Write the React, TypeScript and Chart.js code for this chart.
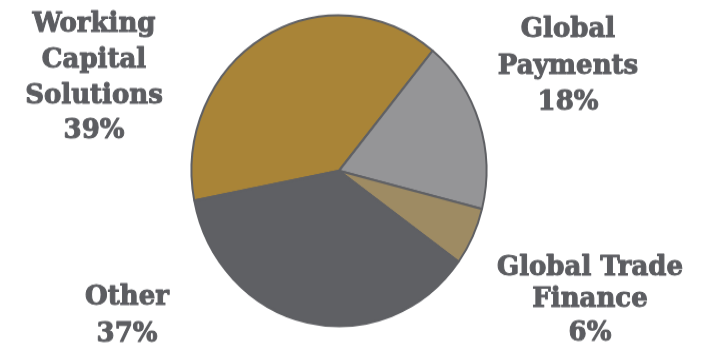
import React, { useEffect, useRef } from "react";
import { Chart, registerables } from "chart.js";

Chart.register(...registerables);

// ---- data ----
const categories: string[] = ["Working Capital Solutions", "Global Payments", "Global Trade Finance", "Other"];
const shares: number[] = [39, 18, 6, 37];
const labelLines: string[][] = [
  ["Working", "Capital", "Solutions"],
  ["Global", "Payments"],
  ["Global Trade", "Finance"],
  ["Other"],
];

// ---- styles / layout ----
const sliceColors = ["#A98437", "#959597", "#9E8B63", "#5F6064"];
const borderColor = "#5F6064";
const textColor = "#5C5D61";
const W = 702;
const H = 351;
const SY = 1.054; // vertical stretch of the reference
const CH = Math.round(H / SY);
// label anchors in page pixels: centre x, baselines y
const labelX = [94, 568, 590, 127];
const labelBaselines = [
  [32, 67, 103, 138],
  [37, 74, 110],
  [275, 307, 340],
  [305, 342],
];

const labelPlugin = {
  id: "outsideLabels",
  afterDraw(chart: any) {
    const ctx = chart.ctx as CanvasRenderingContext2D;
    ctx.save();
    ctx.fillStyle = textColor;
    ctx.strokeStyle = textColor;
    ctx.lineWidth = 1;
    ctx.lineJoin = "round";
    ctx.font = "bold 26px 'DejaVu Serif'";
    ctx.textAlign = "center";
    ctx.textBaseline = "alphabetic";
    categories.forEach((_, i) => {
      const lines = [...labelLines[i], `${shares[i]}%`];
      lines.forEach((t, j) => {
        const y = labelBaselines[i][j] / SY;
        ctx.fillText(t, labelX[i], y);
        ctx.strokeText(t, labelX[i], y);
      });
    });
    ctx.restore();
  },
};

export default function App() {
  const ref = useRef<HTMLCanvasElement>(null);
  useEffect(() => {
    document.body.style.margin = "0";
    const chart = new Chart(ref.current as HTMLCanvasElement, {
      type: "pie",
      data: {
        labels: categories,
        datasets: [
          {
            data: shares,
            backgroundColor: sliceColors,
            borderColor: borderColor,
            borderWidth: 2,
            hoverOffset: 0,
          },
        ],
      },
      options: {
        responsive: false,
        animation: false,
        devicePixelRatio: 1,
        rotation: -101,
        radius: 147.5,
        layout: { padding: { left: 0, right: 24, top: 0, bottom: 9 } },
        plugins: { legend: { display: false }, tooltip: { enabled: false } },
      } as any,
      plugins: [labelPlugin],
    });
    return () => chart.destroy();
  }, []);
  return (
    <div style={{ position: "fixed", left: 0, top: 0, width: W, height: H, overflow: "hidden", background: "#fff" }}>
      <div style={{ width: W, height: CH, transform: `scaleY(${H / CH})`, transformOrigin: "0 0" }}>
        <canvas ref={ref} width={W} height={CH} style={{ display: "block", width: W, height: CH }} />
      </div>
    </div>
  );
}
